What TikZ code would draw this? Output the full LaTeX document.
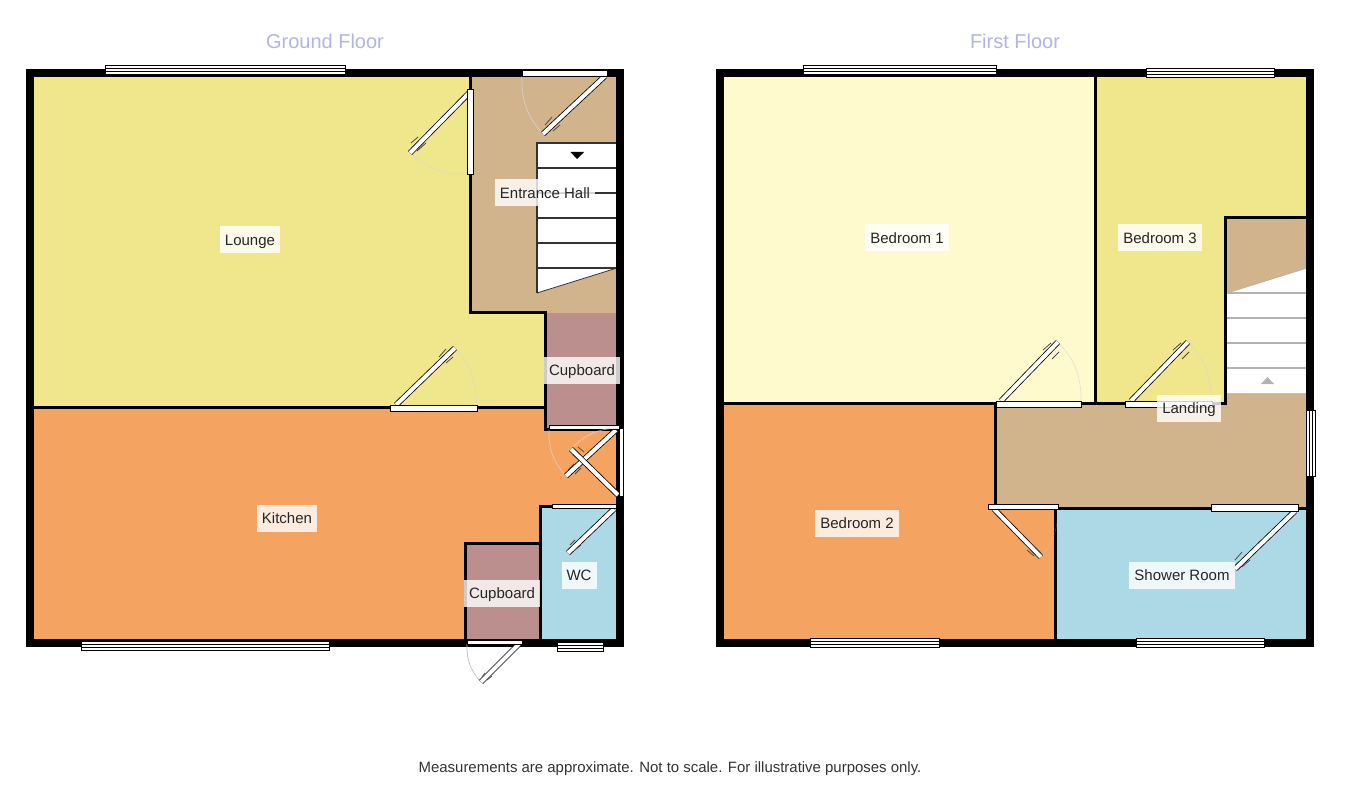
\documentclass[tikz,border=0pt]{standalone}
\usepackage{fontspec}
\setmainfont{Liberation Sans}
\definecolor{loungeyellow}{HTML}{F0E68C}
\definecolor{paleyellow}{HTML}{FFFACD}
\definecolor{halltan}{HTML}{D2B48C}
\definecolor{kitchenorange}{HTML}{F4A460}
\definecolor{cupboardrose}{HTML}{BC8F8F}
\definecolor{washblue}{HTML}{ADD8E6}
\definecolor{titleblue}{HTML}{B4B4E4}
\tikzset{
  outerwall/.style={draw=black,line width=8pt,line join=miter},
  innerwall/.style={draw=black,line width=3pt},
  windowpane/.style={draw=black,fill=white,line width=1pt},
  doorpanel/.style={draw=black,fill=white,line width=.8pt},
  doorleaf/.style={draw=black,line width=.8pt,double=white,double distance=4pt},
  doorhinge/.style={draw=black!70,line width=.8pt},
  doorswing/.style={draw=black!15,line width=.7pt,opacity=.7},
  faintswing/.style={draw=black!15,line width=.7pt,opacity=.2},
  treaddark/.style={draw=black!80,line width=1.2pt},
  treadgrey/.style={draw=black!30,line width=1.2pt},
  roomlabel/.style={fill=white,fill opacity=.8,text opacity=1,text=black!85,inner xsep=5pt,inner ysep=0pt,
    minimum height=27pt,text height=11pt,text depth=0pt,font=\fontsize{15}{16}\selectfont},
  floortitle/.style={text=titleblue,font=\fontsize{20}{22}\selectfont},
  footnotetext/.style={text=black!80,font=\fontsize{14.95}{16}\selectfont}
}

\begin{document}
\begin{tikzpicture}[x=1pt,y=-1pt]
  \useasboundingbox[fill=white] (0,0) rectangle (1345,805);

  % Ground floor rooms
  \fill[loungeyellow] (34,77) -- (470,77) -- (470,313) -- (545,313) -- (545,407) -- (34,407) -- cycle;
  \fill[halltan] (470,77) -- (616,77) -- (616,313) -- (470,313) -- cycle;
  \fill[cupboardrose] (545,313) -- (616,313) -- (616,428) -- (545,428) -- cycle;
  \fill[kitchenorange] (34,407) -- (545,407) -- (545,428) -- (616,428) -- (616,506) -- (540,506) -- (540,543) -- (465,543) -- (465,639) -- (34,639) -- cycle;
  \fill[washblue] (540,506) -- (616,506) -- (616,639) -- (540,639) -- cycle;
  \fill[cupboardrose] (465,543) -- (540,543) -- (540,639) -- (465,639) -- cycle;

  % Ground floor stairs
  \fill[white] (537,143) -- (617,143) -- (617,268) -- (537,293) -- cycle;
  \draw[treaddark] (537,293) -- (537,143) -- (617,143);
  \draw[treaddark] (537,168) -- (617,168);
  \draw[treaddark] (537,193) -- (617,193);
  \draw[treaddark] (537,218) -- (617,218);
  \draw[treaddark] (537,243) -- (617,243);
  \draw[treaddark] (537,268) -- (617,268);
  \draw[black!80,line width=.8pt] (537,293) -- (617,268);
  \fill[black] (570.5,152) -- (584,152) -- (577,159) -- cycle;

  % Ground floor walls
  \draw[innerwall] (470,77) -- (470,313) -- (545,313) -- (545,429.5) -- (616,429.5);
  \draw[innerwall] (34,407) -- (545,407);
  \draw[innerwall] (616,506) -- (540,506) -- (540,639);
  \draw[innerwall] (465,639) -- (465,543) -- (540,543);
  \draw[outerwall] (30,73) rectangle (620,643);

  % Ground floor windows
  \draw[windowpane] (105,65.5) rectangle (345,74.5) (105,68.5) -- (345,68.5) (105,71.5) -- (345,71.5);
  \draw[windowpane] (81,641.5) rectangle (329,650.5) (81,644.5) -- (329,644.5) (81,647.5) -- (329,647.5);
  \draw[windowpane] (557,642) rectangle (603,651) (557,645) -- (603,645) (557,648) -- (603,648);

  % Lounge door
  \draw[doorswing] (410,153) to[bend right=22] (470,174);
  \draw[doorleaf] (470,92) -- (410,153);
  \draw[doorhinge] (411,143) -- (418,137) (417,151) -- (426,143);
  \draw[doorpanel] (467,89) rectangle (473,174);

  % Front door
  \draw[doorswing] (543,134) to[bend left=22] (522,76);
  \draw[doorleaf] (605,76) -- (543,134);
  \draw[doorhinge] (545,125) -- (552,117) (553,131) -- (560,125);
  \draw[doorpanel] (522,70) rectangle (607,76);

  % Kitchen door
  \draw[doorswing] (455,348) to[bend left=22] (476,405);
  \draw[doorleaf] (396,405) -- (455,348);
  \draw[doorhinge] (439,357) -- (446,349) (446,363) -- (453,357);
  \draw[doorpanel] (390,405) rectangle (477,411);

  % Cupboard door
  \draw[doorswing] (566,476) to[bend left=22] (549,430);
  \draw[doorleaf] (616,430) -- (566,476);
  \draw[doorhinge] (568,470) -- (574,464) (575,474) -- (581,468);
  \draw[doorpanel] (549,425) rectangle (619,429.5);

  % Back door
  \draw[doorswing] (571,449) to[bend left=22] (618,428);
  \draw[doorleaf] (618,495) -- (571,449);
  \draw[doorhinge] (578,447) -- (584,452) (573,455) -- (579,460);
  \draw[doorpanel] (619,428) rectangle (623,496);

  % WC door
  \draw[faintswing] (568,553) to[bend left=22] (552,508);
  \draw[doorleaf] (614,509) -- (568,553);
  \draw[doorhinge] (570,545) -- (575,540) (575,550) -- (581,545);
  \draw[doorpanel] (552,504) rectangle (616,508);

  % Outside cupboard door
  \draw[draw=black!25,line width=.7pt] (481,682) to[bend left=22] (467,644);
  \draw[doorleaf] (519,644) -- (481,682);
  \draw[doorhinge] (482,677) -- (485,673) (487,680) -- (492,676);
  \draw[doorpanel] (467,640) rectangle (522,644);

  % First floor rooms
  \fill[paleyellow] (724,77) -- (1095,77) -- (1095,403) -- (724,403) -- cycle;
  \fill[loungeyellow] (1095,77) -- (1306,77) -- (1306,218) -- (1225,218) -- (1225,403) -- (1095,403) -- cycle;
  \fill[halltan] (995,403) -- (1225,403) -- (1225,218) -- (1306,218) -- (1306,508) -- (995,508) -- cycle;
  \fill[kitchenorange] (724,403) -- (995,403) -- (995,508) -- (1055,508) -- (1055,639) -- (724,639) -- cycle;
  \fill[washblue] (1055,508) -- (1306,508) -- (1306,639) -- (1055,639) -- cycle;

  % First floor stairs
  \fill[white] (1227,293) -- (1307,268) -- (1307,393) -- (1227,393) -- cycle;
  \draw[treadgrey] (1227,293) -- (1307,293);
  \draw[treadgrey] (1227,318) -- (1307,318);
  \draw[treadgrey] (1227,343) -- (1307,343);
  \draw[treadgrey] (1227,368) -- (1307,368);
  \draw[black!30,line width=.8pt] (1227,293) -- (1307,268);
  \fill[black!30] (1261,384) -- (1274,384) -- (1267.5,377) -- cycle;

  % First floor walls
  \draw[innerwall] (1095,77) -- (1095,403);
  \draw[innerwall] (724,403) -- (1225,403) -- (1225,218) -- (1306,218);
  \draw[innerwall] (995,403) -- (995,508);
  \draw[innerwall] (995,508) -- (1306,508);
  \draw[innerwall] (1055,508) -- (1055,639);
  \draw[outerwall] (720,73) rectangle (1310,643);

  % First floor windows
  \draw[windowpane] (803,65.5) rectangle (996,74.5) (803,68.5) -- (996,68.5) (803,71.5) -- (996,71.5);
  \draw[windowpane] (1146,68.5) rectangle (1274,77.5) (1146,71.5) -- (1274,71.5) (1146,74.5) -- (1274,74.5);
  \draw[windowpane] (810,638.5) rectangle (939,647.5) (810,641.5) -- (939,641.5) (810,644.5) -- (939,644.5);
  \draw[windowpane] (1136,638.5) rectangle (1264,647.5) (1136,641.5) -- (1264,641.5) (1136,644.5) -- (1264,644.5);
  \draw[windowpane] (1306,410) rectangle (1315,476) (1309,410) -- (1309,476) (1312,410) -- (1312,476);

  % Bedroom 1 door
  \draw[doorswing] (1058,342) to[bend left=22] (1081,401);
  \draw[doorleaf] (1001,401) -- (1058,342);
  \draw[doorhinge] (1043,350) -- (1051,343) (1052,359) -- (1059,352);
  \draw[doorpanel] (996,401) rectangle (1081,407);

  % Bedroom 3 door
  \draw[doorswing] (1188,342) to[bend left=22] (1211,401);
  \draw[doorleaf] (1131,401) -- (1188,342);
  \draw[doorhinge] (1173,350) -- (1181,343) (1182,359) -- (1189,352);
  \draw[doorpanel] (1125,401) rectangle (1212,407);

  % Bedroom 2 door
  \draw[faintswing] (1041,557) to[bend right=22] (1057,509);
  \draw[doorleaf] (994,509) -- (1041,557);
  \draw[doorhinge] (1033,545) -- (1040,552) (1027,550) -- (1034,556);
  \draw[doorpanel] (988,504) rectangle (1058,509);

  % Shower room door
  \draw[faintswing] (1235,569) to[bend left=22] (1212,511);
  \draw[doorleaf] (1295,511) -- (1235,569);
  \draw[doorhinge] (1235,560) -- (1242,552) (1242,567) -- (1250,560);
  \draw[doorpanel] (1211,504) rectangle (1298,511);

  % Labels
  \node[roomlabel] (lounge) at (250,240) {Lounge};
  \node[roomlabel] (hall) at (545,193) {Entrance Hall};
  \node[roomlabel] (cupboardupper) at (582,370) {Cupboard};
  \node[roomlabel] (kitchen) at (287,518) {Kitchen};
  \node[roomlabel] (cupboardlower) at (502,593) {Cupboard};
  \node[roomlabel] (wc) at (579,575) {WC};
  \node[roomlabel] (bedroomone) at (907,238) {Bedroom 1};
  \node[roomlabel] (bedroomthree) at (1160,238) {Bedroom 3};
  \node[roomlabel] (landing) at (1189,408) {Landing};
  \node[roomlabel] (bedroomtwo) at (857,523) {Bedroom 2};
  \node[roomlabel] (showerroom) at (1182,575) {Shower Room};

  % Titles
  \node[floortitle] (groundfloor) at (325,41) {Ground Floor};
  \node[floortitle] (firstfloor) at (1015,41) {First Floor};
  \node[footnotetext] (disclaimer) at (670,769) {Measurements are approximate. Not to scale. For illustrative purposes only.};
\end{tikzpicture}
\end{document}
